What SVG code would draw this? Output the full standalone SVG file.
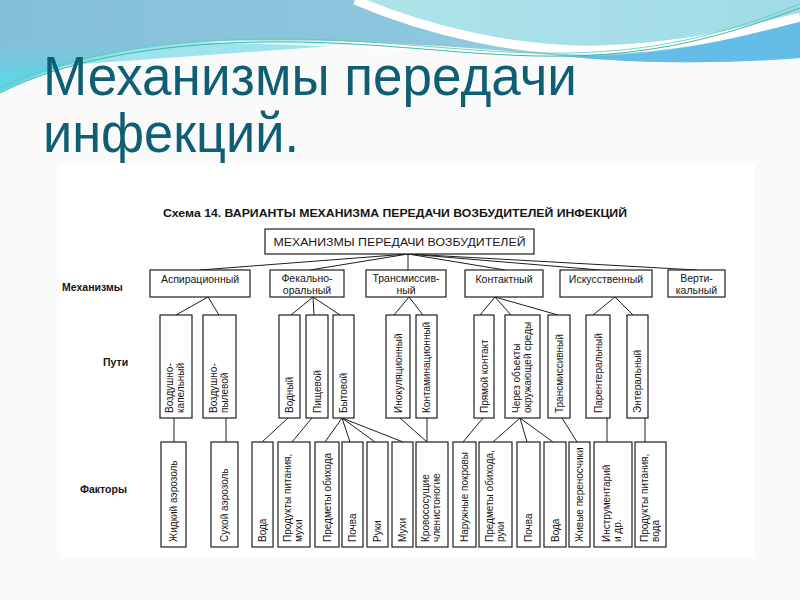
<svg xmlns="http://www.w3.org/2000/svg" width="800" height="600" viewBox="0 0 800 600">
<defs>
<linearGradient id="gA" x1="0" y1="0" x2="1" y2="0">
<stop offset="0" stop-color="#84bfd8"/><stop offset="0.5" stop-color="#8cc6de"/><stop offset="1" stop-color="#9fd8e6"/>
</linearGradient>
<linearGradient id="gB" x1="0" y1="0" x2="0" y2="1">
<stop offset="0" stop-color="#5fd6e8" stop-opacity="0"/><stop offset="1" stop-color="#58d8e8" stop-opacity="0.9"/>
</linearGradient>
<linearGradient id="gC" x1="0" y1="0" x2="1" y2="0">
<stop offset="0" stop-color="#aee3e8"/><stop offset="1" stop-color="#a2dbe8"/>
</linearGradient>
<style>
.b{fill:#fff;stroke:#1e1e1e;stroke-width:1.2}
.t{font-family:"Liberation Sans",Arial,sans-serif;font-size:10px;fill:#151515}
.m{font-size:10.5px;text-anchor:middle}
.l{font-family:"Liberation Sans",Arial,sans-serif;font-size:10.5px;font-weight:bold;fill:#151515}
.c{stroke:#1e1e1e;stroke-width:1;fill:none}
.ti{font-family:"Liberation Sans",Arial,sans-serif;font-size:56px;fill:#0f5f74}
</style>
</defs>
<rect width="800" height="600" fill="#fafafa"/>
<g id="waves">
<path d="M0,0 H800 V58 C720,64 640,64 560,56 C460,46 360,40 250,40 C150,40 60,60 0,92 Z" fill="url(#gA)"/>
<path d="M0,40 C60,45 120,45 200,42 C120,48 50,70 0,92 Z" fill="url(#gB)"/>
<path d="M0,92 C60,60 150,40 250,40 C300,40 330,42 360,44 L0,70 Z" fill="#62d4e6" opacity="0.6"/>
<path d="M360,0 C430,30 520,50 600,48 C680,46 750,30 800,16 V0 Z" fill="url(#gC)"/>
<path d="M560,56 C640,58 720,45 800,20 V58 C720,64 640,64 560,56 Z" fill="#64bde6"/>
<path d="M355,0 C430,32 520,52 600,50 C690,47 750,30 800,17" stroke="#fff" stroke-width="9" fill="none"/>
<path d="M200,42 C300,38 420,44 520,56 C420,50 320,46 200,42 Z" fill="#fff" opacity="0.7"/>
<path d="M0,93 C60,62 150,44 260,42 C380,40 470,58 570,56 C670,54 740,30 800,8" stroke="#3dbb9f" stroke-width="1" fill="none"/>
<path d="M0,88 C60,58 150,41 260,39 C380,37 470,55 570,53 C670,51 740,28 800,4" stroke="#5cc9b0" stroke-width="0.8" fill="none"/>
</g>
<g id="title">
<text class="ti" x="43" y="95" textLength="534" lengthAdjust="spacingAndGlyphs">Механизмы передачи</text>
<text class="ti" x="43" y="152" textLength="256" lengthAdjust="spacingAndGlyphs">инфекций.</text>
</g>
<rect x="60" y="163" width="695" height="395" fill="#fff"/>
<text class="l" x="163" y="217" font-size="9.5" textLength="464" lengthAdjust="spacingAndGlyphs">Схема 14. ВАРИАНТЫ МЕХАНИЗМА ПЕРЕДАЧИ ВОЗБУДИТЕЛЕЙ ИНФЕКЦИЙ</text>
<text class="l" x="62" y="291">Механизмы</text>
<text class="l" x="103" y="366">Пути</text>
<text class="l" x="80" y="493">Факторы</text>
<g id="connectors">
<path class="c" d="M408,254 L200,270 M408,254 L310,270 M408,254 L408,270 M408,254 L505,270 M408,254 L600,270 M408,254 L697,270"/>
<path class="c" d="M208,297 L176,315 M208,297 L219,315"/>
<path class="c" d="M313,297 L291,315 M313,297 L314,315 M313,297 L340,315"/>
<path class="c" d="M409,297 L394,315 M409,297 L423,315"/>
<path class="c" d="M495,297 L480,315 M495,297 L511,315 M495,297 L558,315"/>
<path class="c" d="M615,297 L593,315 M615,297 L633,315"/>
<path class="c" d="M174,418 L174,442 M226,418 L226,442"/>
<path class="c" d="M288,418 L262,442 M312,418 L292,442"/>
<path class="c" d="M342,418 L325,442 M342,418 L350,442 M342,418 L375,442 M342,418 L403,442"/>
<path class="c" d="M400,418 L427,442 M427,418 L427,442"/>
<path class="c" d="M483,418 L463,442"/>
<path class="c" d="M520,418 L493,442 M520,418 L527,442 M520,418 L553,442"/>
<path class="c" d="M562,418 L577,442 M607,418 L607,442 M645,418 L645,442"/>
</g>
<g id="root">
<rect class="b" x="265" y="229" width="269" height="25"/>
<text class="t" x="399.5" y="245.5" text-anchor="middle" font-size="11.5" textLength="252" lengthAdjust="spacingAndGlyphs">МЕХАНИЗМЫ ПЕРЕДАЧИ ВОЗБУДИТЕЛЕЙ</text>
</g>
<g id="mech-asp"><rect class="b" x="150" y="270" width="100" height="27"/><text class="t m" x="200" y="283">Аспирационный</text></g>
<g id="mech-fec"><rect class="b" x="270" y="270" width="74" height="27"/><text class="t m" x="307" y="282">Фекально-</text><text class="t m" x="307" y="293.5">оральный</text></g>
<g id="mech-trans"><rect class="b" x="366" y="270" width="80" height="27"/><text class="t m" x="406" y="282">Трансмиссив-</text><text class="t m" x="406" y="293.5">ный</text></g>
<g id="mech-cont"><rect class="b" x="465" y="270" width="78" height="27"/><text class="t m" x="504" y="283">Контактный</text></g>
<g id="mech-art"><rect class="b" x="560" y="270" width="92" height="27"/><text class="t m" x="606" y="283">Искусственный</text></g>
<g id="mech-vert"><rect class="b" x="668" y="270" width="57" height="27"/><text class="t m" x="696.5" y="282">Верти-</text><text class="t m" x="696.5" y="293.5">кальный</text></g>

<g id="p1"><rect class="b" x="160" y="315" width="32" height="103"/><text class="t" transform="translate(173,413) rotate(-90)">Воздушно-</text><text class="t" transform="translate(184,413) rotate(-90)">капельный</text></g>
<g id="p2"><rect class="b" x="203" y="315" width="33" height="103"/><text class="t" transform="translate(216.5,413) rotate(-90)">Воздушно-</text><text class="t" transform="translate(227.5,413) rotate(-90)">пылевой</text></g>
<g id="p3"><rect class="b" x="279" y="315" width="21" height="103"/><text class="t" transform="translate(293,413) rotate(-90)">Водный</text></g>
<g id="p4"><rect class="b" x="306" y="315" width="22" height="103"/><text class="t" transform="translate(320.5,413) rotate(-90)">Пищевой</text></g>
<g id="p5"><rect class="b" x="333" y="315" width="21" height="103"/><text class="t" transform="translate(347,413) rotate(-90)">Бытовой</text></g>
<g id="p6"><rect class="b" x="386" y="315" width="24" height="103"/><text class="t" transform="translate(401.5,413) rotate(-90)">Инокуляционный</text></g>
<g id="p7"><rect class="b" x="416" y="315" width="21" height="103"/><text class="t" transform="translate(430,413) rotate(-90)">Контаминационный</text></g>
<g id="p8"><rect class="b" x="474" y="315" width="20" height="103"/><text class="t" transform="translate(487.5,413) rotate(-90)">Прямой контакт</text></g>
<g id="p9"><rect class="b" x="505" y="315" width="35" height="103"/><text class="t" transform="translate(519.5,413) rotate(-90)">Через объекты</text><text class="t" transform="translate(530.5,413) rotate(-90)">окружающей среды</text></g>
<g id="p10"><rect class="b" x="548" y="315" width="22" height="103"/><text class="t" transform="translate(562.5,413) rotate(-90)">Трансмиссивный</text></g>
<g id="p11"><rect class="b" x="586" y="315" width="24" height="103"/><text class="t" transform="translate(601.5,413) rotate(-90)">Парентеральный</text></g>
<g id="p12"><rect class="b" x="627" y="315" width="21" height="103"/><text class="t" transform="translate(641,413) rotate(-90)">Энтеральный</text></g>

<g id="f1"><rect class="b" x="161" y="442" width="25" height="105"/><text class="t" transform="translate(177,542) rotate(-90)">Жидкий аэрозоль</text></g>
<g id="f2"><rect class="b" x="211" y="442" width="27" height="105"/><text class="t" transform="translate(228,542) rotate(-90)">Сухой аэрозоль</text></g>
<g id="f3"><rect class="b" x="252" y="442" width="21" height="105"/><text class="t" transform="translate(266,542) rotate(-90)">Вода</text></g>
<g id="f4"><rect class="b" x="278" y="442" width="32" height="105"/><text class="t" transform="translate(291,542) rotate(-90)">Продукты питания,</text><text class="t" transform="translate(302,542) rotate(-90)">мухи</text></g>
<g id="f5"><rect class="b" x="315" y="442" width="24" height="105"/><text class="t" transform="translate(330.5,542) rotate(-90)">Предметы обихода</text></g>
<g id="f6"><rect class="b" x="342" y="442" width="21" height="105"/><text class="t" transform="translate(356,542) rotate(-90)">Почва</text></g>
<g id="f7"><rect class="b" x="367" y="442" width="21" height="105"/><text class="t" transform="translate(381,542) rotate(-90)">Руки</text></g>
<g id="f8"><rect class="b" x="392" y="442" width="21" height="105"/><text class="t" transform="translate(406,542) rotate(-90)">Мухи</text></g>
<g id="f9"><rect class="b" x="416" y="442" width="32" height="105"/><text class="t" transform="translate(429,542) rotate(-90)">Кровососущие</text><text class="t" transform="translate(440,542) rotate(-90)">членистоногие</text></g>
<g id="f10"><rect class="b" x="453" y="442" width="23" height="105"/><text class="t" transform="translate(468,542) rotate(-90)">Наружные покровы</text></g>
<g id="f11"><rect class="b" x="479" y="442" width="33" height="105"/><text class="t" transform="translate(492.5,542) rotate(-90)">Предметы обихода,</text><text class="t" transform="translate(503.5,542) rotate(-90)">руки</text></g>
<g id="f12"><rect class="b" x="517" y="442" width="23" height="105"/><text class="t" transform="translate(532,542) rotate(-90)">Почва</text></g>
<g id="f13"><rect class="b" x="544" y="442" width="22" height="105"/><text class="t" transform="translate(558.5,542) rotate(-90)">Вода</text></g>
<g id="f14"><rect class="b" x="569" y="442" width="21" height="105"/><text class="t" transform="translate(583,542) rotate(-90)">Живые переносчики</text></g>
<g id="f15"><rect class="b" x="594" y="442" width="38" height="105"/><text class="t" transform="translate(610,542) rotate(-90)">Инструментарий</text><text class="t" transform="translate(621,542) rotate(-90)">и др.</text></g>
<g id="f16"><rect class="b" x="635" y="442" width="31" height="105"/><text class="t" transform="translate(647.5,542) rotate(-90)">Продукты питания,</text><text class="t" transform="translate(658.5,542) rotate(-90)">вода</text></g>
</svg>
